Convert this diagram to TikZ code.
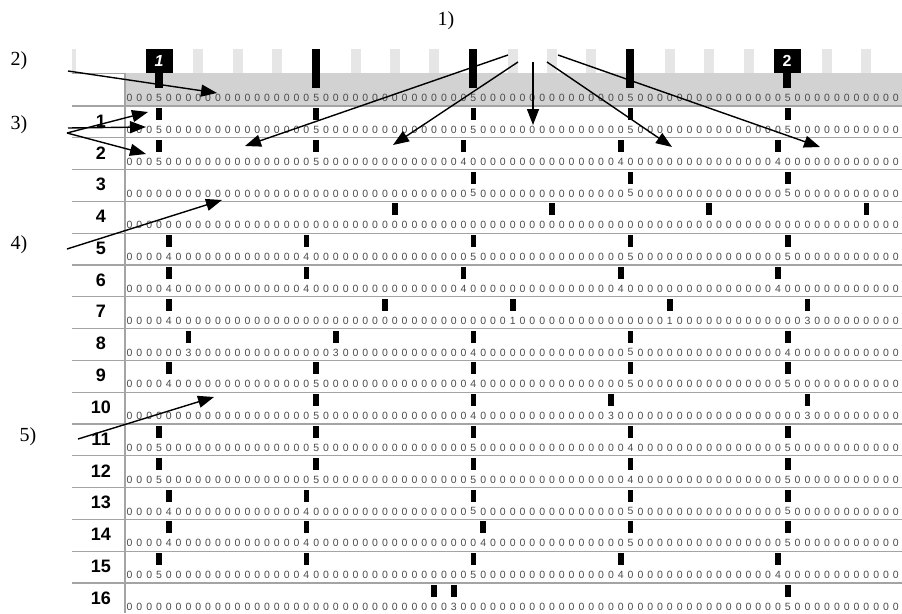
\documentclass[tikz,border=0pt]{standalone}
\usepackage{fontspec}
\setmainfont{Liberation Serif}
\newfontfamily\digfam{Liberation Sans}
\usetikzlibrary{arrows.meta}

\definecolor{digitgray}{HTML}{4A4A4A}
\definecolor{rulegray}{HTML}{A4A4A4}
\definecolor{bandgray}{HTML}{D2D2D2}
\definecolor{stripegray}{HTML}{E6E6E6}

% horizontal placement of the 79 digit columns
\def\digx{129.525}
\def\digstep{9.825}

% one strip of digits: #1 strip id, #2 y, #3 list of index/digit that are not 0
\newcommand\digitstrip[3]{%
  \foreach \p/\v in {#3} {\expandafter\xdef\csname dg#1-\p\endcsname{\v}}%
  \foreach \i in {0,...,78} {%
    \node[dig] (d#1-\i) at ({\digx+\i*\digstep},#2)
      {\ifcsname dg#1-\i\endcsname\csname dg#1-\i\endcsname\else 0\fi};
  }%
}

% one numbered row: #1 row number, #2 digits, #3 columns carrying a tick
\newcommand\gridrow[3]{%
  \pgfmathsetmacro\rtop{106+(#1-1)*31.8}%
  \node[rowlab] (lab#1) at (101,\rtop+15) {#1};
  \foreach \m in {#3} {\fill ({\digx+\m*\digstep-2.8},\rtop+2) rectangle ({\digx+\m*\digstep+2.8},\rtop+14);}
  \digitstrip{#1}{\rtop+23.8}{#2}%
}

\begin{document}
\begin{tikzpicture}[x=1pt,y=-1pt,
  dig/.style={font=\digfam\fontsize{10.5}{11}\selectfont, text=digitgray, inner sep=0pt},
  rowlab/.style={font=\digfam\bfseries\fontsize{18}{18}\selectfont, inner sep=0pt},
  callout/.style={font=\fontsize{20}{22}\selectfont, inner sep=0pt},
  beatbox/.style={fill=black, text=white, font=\digfam\bfseries\fontsize{16}{16}\selectfont,
    minimum width=27pt, minimum height=24pt, inner sep=0pt},
  rowrule/.style={draw=rulegray, line width=1.3pt},
  pointer/.style={draw=black, line width=1.4pt, -{Triangle[length=16pt,width=12pt]}}]

\useasboundingbox (0,0) rectangle (902,613);
\fill[white] (0,0) rectangle (902,613);

% ruler band with quarter-beat separators
\fill[stripegray] (72,49) rectangle (76,73);
\foreach \k in {1,...,18} {%
  \pgfmathtruncatemacro\q{mod(\k,4)}%
  \ifnum\q>0 \fill[stripegray] ({159+\k*39.3-5},49) rectangle ({159+\k*39.3+5},73);\fi
}

% grey band behind the header digits
\fill[bandgray] (125,73) rectangle (902,106);
\draw[draw=rulegray, line width=0.8pt] (72,73) -- (125,73);

% row separators and column separator
\foreach \k in {0,...,15} {\draw[rowrule] (72,{106+\k*31.8}) -- (902,{106+\k*31.8});}
\draw[rowrule] (125,73) -- (125,613);

% beat bars and numbered bars
\foreach \b in {316,473,630} {\fill (\b-4,49) rectangle (\b+4,88);}
\fill (155,73) rectangle (163,88);
\fill (783,73) rectangle (791,88);
\node[beatbox] (beat1) at (159,61) {\itshape 1};
\node[beatbox] (beat2) at (787,61) {2};

% header digits
\digitstrip{h}{98}{3/5,19/5,35/5,51/5,67/5}

% numbered rows
\gridrow{1}{3/5,19/5,35/5,51/5,67/5}{3,19,35,51,67}
\gridrow{2}{3/5,19/5,34/4,50/4,66/4}{3,19,34,50,66}
\gridrow{3}{35/5,51/5,67/5}{35,51,67}
\gridrow{4}{}{27,43,59,75}
\gridrow{5}{4/4,18/4,35/5,51/5,67/5}{4,18,35,51,67}
\gridrow{6}{4/4,18/4,34/4,50/4,66/4}{4,18,34,50,66}
\gridrow{7}{4/4,39/1,55/1,69/3}{4,26,39,55,69}
\gridrow{8}{6/3,21/3,35/4,51/5,67/4}{6,21,35,51,67}
\gridrow{9}{4/4,19/5,35/4,51/5,67/5}{4,19,35,51,67}
\gridrow{10}{19/5,35/4,49/3,69/3}{19,35,49,69}
\gridrow{11}{3/5,19/5,35/5,51/4,67/5}{3,19,35,51,67}
\gridrow{12}{3/5,19/5,35/5,51/4,67/5}{3,19,35,51,67}
\gridrow{13}{4/4,18/4,35/5,51/5,67/5}{4,18,35,51,67}
\gridrow{14}{4/4,18/4,36/4,51/5,67/5}{4,18,36,51,67}
\gridrow{15}{3/5,18/4,35/5,50/4,66/4}{3,18,35,50,66}
\gridrow{16}{33/3,67/5}{31,33,67}

% callout labels
\node[callout] (c1) at (446,21) {1)};
\node[callout] (c2) at (19,61) {2)};
\node[callout] (c3) at (19,125) {3)};
\node[callout] (c4) at (19,245) {4)};
\node[callout] (c5) at (28,437) {5)};

% pointer ends
\coordinate (s1a) at (508,55);  \coordinate (t1a) at (245,146);
\coordinate (s1b) at (518,62);  \coordinate (t1b) at (393,145);
\coordinate (s1c) at (533,62);  \coordinate (t1c) at (533,125);
\coordinate (s1d) at (547,62);  \coordinate (t1d) at (672,147);
\coordinate (s1e) at (558,55);  \coordinate (t1e) at (820,147);
\coordinate (s2) at (68,71);    \coordinate (t2) at (217,93);
\coordinate (s3) at (67,133);   \coordinate (s3m) at (68,128);
\coordinate (t3a) at (148,112); \coordinate (t3b) at (146,127); \coordinate (t3c) at (146,154);
\coordinate (s4) at (67,249);   \coordinate (t4) at (222,200);
\coordinate (s5) at (78,439);   \coordinate (t5) at (214,397);

\draw[pointer] (s1a) -- (t1a);
\draw[pointer] (s1b) -- (t1b);
\draw[pointer] (s1c) -- (t1c);
\draw[pointer] (s1d) -- (t1d);
\draw[pointer] (s1e) -- (t1e);
\draw[pointer] (s2) -- (t2);
\draw[pointer] (s3) -- (t3a);
\draw[pointer] (s3m) -- (t3b);
\draw[pointer] (s3) -- (t3c);
\draw[pointer] (s4) -- (t4);
\draw[pointer] (s5) -- (t5);
\end{tikzpicture}
\end{document}
